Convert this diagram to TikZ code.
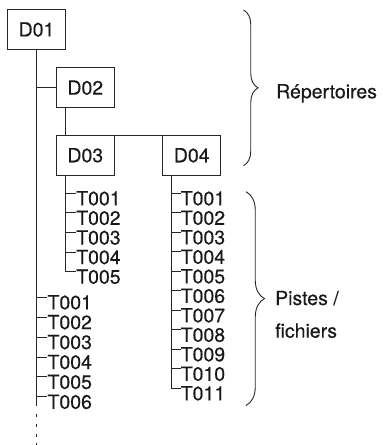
\documentclass[tikz,border=0pt]{standalone}
\usepackage{fontspec}
\setmainfont[FakeBold=0.3]{TeX Gyre Heros}
\usetikzlibrary{calc,decorations.pathreplacing}
\begin{document}
\begin{tikzpicture}[x=1pt,y=-1pt,
  every node/.style={font=\fontsize{19.5}{23}\selectfont, text=black!90},
  dirbox/.style={draw=black!85, line width=1pt, minimum width=58pt, minimum height=39.5pt, inner sep=0pt},
  link/.style={draw=black!85, line width=1pt},
  track/.style={anchor=west, inner sep=0pt, text height=24pt, text depth=0pt},
  lbl/.style={anchor=base west, inner sep=0pt},
  brc/.style={draw=black!85, line width=0.9pt, decorate, decoration={brace, amplitude=#1, aspect=0.5}}
]
\useasboundingbox (0,0) rectangle (383,445);

% directories
\node[dirbox] (D01) at (36.5,29.5) {D01};
\node[dirbox] (D02) at (85.3,87.7) {D02};
\node[dirbox] (D03) at (85.3,155.3) {D03};
\node[dirbox] (D04) at (191.7,155.3) {D04};

% directory links
\draw[link] (D01.south |- D02.west) -- (D02.west);
\coordinate (sD02) at ($(D02.south west)+(9.4pt,0)$);
\coordinate (nD03) at ($(D03.north west)+(9.4pt,0)$);
\draw[link] (sD02) -- (nD03) -- (D04.north west);

% tracks of D03
\coordinate (ta) at ($(D03.south west)+(9.4pt,0)$);
\foreach \i in {1,...,5} {
  \node[track] (a\i) at (76, {173.7+19.6*\i}) {T00\i};
}
\draw[link] (ta) |- (a5.west);
\foreach \i in {1,...,4} { \draw[link] (ta |- a\i.west) -- (a\i.west); }

% tracks of D04
\coordinate (tb) at ($(D04.south west)+(9.6pt,0)$);
\foreach \i/\t in {1/T001,2/T002,3/T003,4/T004,5/T005,6/T006,7/T007,8/T008,9/T009,10/T010,11/T011} {
  \node[track] (b\i) at (180.5, {173.8+19.5*\i}) {\t};
}
\draw[link] (tb) |- (b11.west);
\foreach \i in {1,...,10} { \draw[link] (tb |- b\i.west) -- (b\i.west); }

% tracks of D01
\coordinate (t1) at (36.5,406);
\coordinate (d1s) at (36.5,414);
\coordinate (d1e) at (36.5,445);
\foreach \i in {1,...,6} {
  \node[track] (c\i) at (47.3, {277.4+19.9*\i}) {T00\i};
}
\draw[link] (D01.south) -- (t1);
\draw[link, dash pattern=on 3pt off 6.8pt] (d1s) -- (d1e);
\foreach \i in {1,...,6} { \draw[link] (t1 |- c\i.west) -- (c\i.west); }

% braces
\coordinate (r1) at (243.5,10);
\coordinate (r2) at (243.5,165.7);
\draw[brc=14.5pt] (r1) -- (r2);
\coordinate (p1) at (246,191.7);
\coordinate (p2) at (246,405.5);
\draw[brc=18.5pt] (p1) -- (p2);

% labels
\node[lbl] (rep) at (276,98.3) {Répertoires};
\node[lbl] (pis) at (275,305) {Pistes /};
\node[lbl] (fic) at (275,337.7) {fichiers};
\end{tikzpicture}
\end{document}
